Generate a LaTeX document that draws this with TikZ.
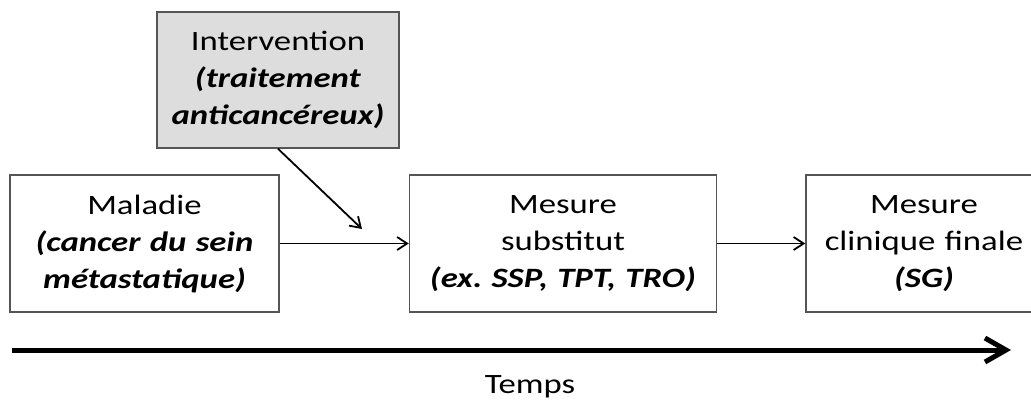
\documentclass[tikz,border=0pt]{standalone}
\usepackage{fontspec}
\setmainfont{Carlito}[FakeStretch=1.24]
\usetikzlibrary{arrows.meta, positioning}
\definecolor{boxgray}{HTML}{DDDDDD}
\definecolor{edgegray}{HTML}{555555}
\frenchspacing

\begin{document}
\begin{tikzpicture}[x=1pt, y=-1pt,
  box/.style={rectangle, draw=edgegray, line width=1.5pt, fill=#1,
    minimum height=137pt, inner sep=0pt, align=center,
    font=\fontsize{28}{37}\selectfont},
  box/.default=white,
  link/.style={-{Straight Barb[length=10pt, width=13pt, line width=1.8pt]}, line width=1.8pt},
  timeline/.style={-{Straight Barb[length=21pt, width=24pt, line width=5pt]}, line width=5pt},
]
  \useasboundingbox (0,0) rectangle (1031,405);
  \node[box, text width=269pt] (maladie) at (144.5,243.5) {
    Maladie\\
    \textbf{\textit{(cancer du sein}}\\
    \textbf{\textit{métastatique)}}
  };
  \node[box, text width=307pt, right=129pt of maladie] (substitut) {
    Mesure\\
    substitut\\
    \textbf{\textit{(ex. SSP, TPT, TRO)}}
  };
  \node[box, text width=236pt, right=88pt of substitut] (clinique) {
    Mesure\\
    clinique finale\\
    \textbf{\textit{(SG)}}
  };
  \node[box=boxgray, text width=242pt, minimum height=136pt] (intervention) at (278,80) {
    Intervention\\
    \textbf{\textit{(traitement}}\\
    \textbf{\textit{anticancéreux)}}
  };
  \coordinate (impact) at (362,229);
  \draw[link] (maladie) -- (substitut);
  \draw[link] (substitut) -- (clinique);
  \draw[link] (intervention.south) -- (impact);
  % axe du temps
  \coordinate (debut) at (12,350);
  \coordinate (fin) at (1011,350);
  \draw[timeline] (debut) -- (fin);
  \node[font=\fontsize{28}{37}\selectfont] (temps) at (530,387) {Temps};
\end{tikzpicture}
\end{document}
